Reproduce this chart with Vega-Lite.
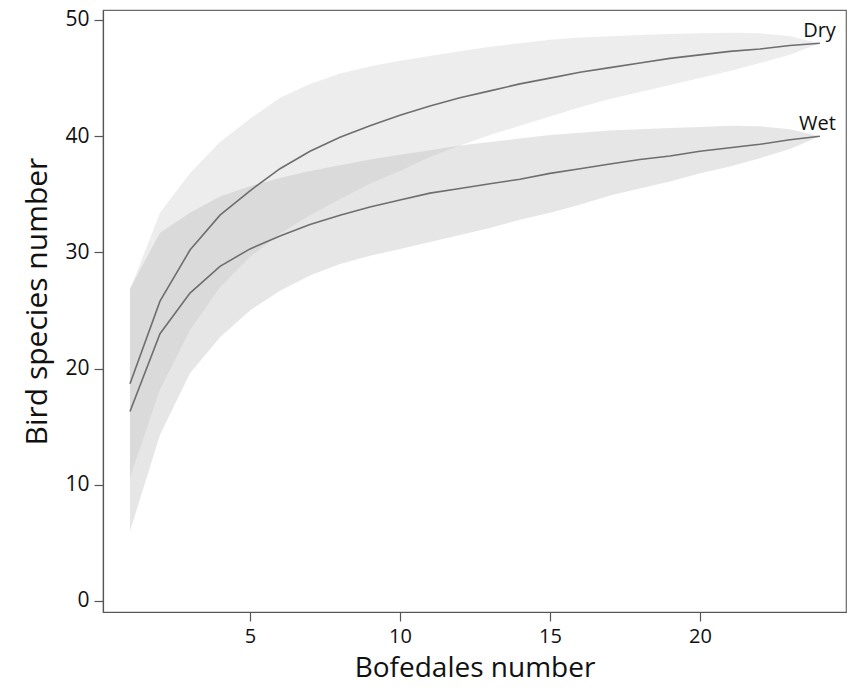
{
  "$schema": "https://vega.github.io/schema/vega-lite/v6.json",
  "width": 743,
  "height": 602,
  "autosize": {"type": "none"},
  "padding": {"left": 103, "top": 10, "right": 5, "bottom": 81},
  "background": "white",
  "config": {
    "view": {"stroke": "#6a6a6a", "strokeWidth": 1.2},
    "font": "Open Sans"
  },
  "data": {
    "values": [
      {"x": 1, "group": "Dry", "mean": 18.7, "lo": 10.6, "hi": 26.8},
      {"x": 2, "group": "Dry", "mean": 25.8, "lo": 18.2, "hi": 33.4},
      {"x": 3, "group": "Dry", "mean": 30.2, "lo": 23.3, "hi": 36.8},
      {"x": 4, "group": "Dry", "mean": 33.2, "lo": 27.0, "hi": 39.5},
      {"x": 5, "group": "Dry", "mean": 35.3, "lo": 29.6, "hi": 41.5},
      {"x": 6, "group": "Dry", "mean": 37.2, "lo": 31.6, "hi": 43.3},
      {"x": 7, "group": "Dry", "mean": 38.7, "lo": 33.2, "hi": 44.5},
      {"x": 8, "group": "Dry", "mean": 39.9, "lo": 34.6, "hi": 45.4},
      {"x": 9, "group": "Dry", "mean": 40.9, "lo": 35.9, "hi": 46.0},
      {"x": 10, "group": "Dry", "mean": 41.8, "lo": 37.0, "hi": 46.5},
      {"x": 11, "group": "Dry", "mean": 42.6, "lo": 38.2, "hi": 46.9},
      {"x": 12, "group": "Dry", "mean": 43.3, "lo": 39.2, "hi": 47.3},
      {"x": 13, "group": "Dry", "mean": 43.9, "lo": 40.1, "hi": 47.7},
      {"x": 14, "group": "Dry", "mean": 44.5, "lo": 40.9, "hi": 48.0},
      {"x": 15, "group": "Dry", "mean": 45.0, "lo": 41.7, "hi": 48.3},
      {"x": 16, "group": "Dry", "mean": 45.5, "lo": 42.5, "hi": 48.5},
      {"x": 17, "group": "Dry", "mean": 45.9, "lo": 43.2, "hi": 48.6},
      {"x": 18, "group": "Dry", "mean": 46.3, "lo": 43.8, "hi": 48.7},
      {"x": 19, "group": "Dry", "mean": 46.7, "lo": 44.4, "hi": 48.8},
      {"x": 20, "group": "Dry", "mean": 47.0, "lo": 45.0, "hi": 48.85},
      {"x": 21, "group": "Dry", "mean": 47.3, "lo": 45.6, "hi": 48.9},
      {"x": 22, "group": "Dry", "mean": 47.5, "lo": 46.3, "hi": 48.85},
      {"x": 23, "group": "Dry", "mean": 47.8, "lo": 47.0, "hi": 48.6},
      {"x": 24, "group": "Dry", "mean": 48.0, "lo": 48.0, "hi": 48.0},
      {"x": 1, "group": "Wet", "mean": 16.3, "lo": 6.0, "hi": 26.9},
      {"x": 2, "group": "Wet", "mean": 23.0, "lo": 14.3, "hi": 31.7},
      {"x": 3, "group": "Wet", "mean": 26.5, "lo": 19.6, "hi": 33.4},
      {"x": 4, "group": "Wet", "mean": 28.8, "lo": 22.7, "hi": 34.8},
      {"x": 5, "group": "Wet", "mean": 30.3, "lo": 25.0, "hi": 35.7},
      {"x": 6, "group": "Wet", "mean": 31.4, "lo": 26.7, "hi": 36.4},
      {"x": 7, "group": "Wet", "mean": 32.4, "lo": 28.0, "hi": 37.0},
      {"x": 8, "group": "Wet", "mean": 33.2, "lo": 29.0, "hi": 37.5},
      {"x": 9, "group": "Wet", "mean": 33.9, "lo": 29.7, "hi": 38.0},
      {"x": 10, "group": "Wet", "mean": 34.5, "lo": 30.3, "hi": 38.4},
      {"x": 11, "group": "Wet", "mean": 35.1, "lo": 30.9, "hi": 38.8},
      {"x": 12, "group": "Wet", "mean": 35.5, "lo": 31.5, "hi": 39.2},
      {"x": 13, "group": "Wet", "mean": 35.9, "lo": 32.1, "hi": 39.5},
      {"x": 14, "group": "Wet", "mean": 36.3, "lo": 32.8, "hi": 39.8},
      {"x": 15, "group": "Wet", "mean": 36.8, "lo": 33.4, "hi": 40.1},
      {"x": 16, "group": "Wet", "mean": 37.2, "lo": 34.1, "hi": 40.3},
      {"x": 17, "group": "Wet", "mean": 37.6, "lo": 34.9, "hi": 40.5},
      {"x": 18, "group": "Wet", "mean": 38.0, "lo": 35.5, "hi": 40.6},
      {"x": 19, "group": "Wet", "mean": 38.3, "lo": 36.1, "hi": 40.7},
      {"x": 20, "group": "Wet", "mean": 38.7, "lo": 36.8, "hi": 40.8},
      {"x": 21, "group": "Wet", "mean": 39.0, "lo": 37.4, "hi": 40.9},
      {"x": 22, "group": "Wet", "mean": 39.3, "lo": 38.1, "hi": 40.85},
      {"x": 23, "group": "Wet", "mean": 39.7, "lo": 38.9, "hi": 40.6},
      {"x": 24, "group": "Wet", "mean": 40.0, "lo": 40.0, "hi": 40.0}
    ]
  },
  "encoding": {
    "x": {
      "field": "x", "type": "quantitative",
      "scale": {"domain": [0.1, 24.87], "nice": false, "zero": false},
      "axis": {
        "title": "Bofedales number", "values": [5, 10, 15, 20],
        "grid": false, "domainColor": "#555555", "domainWidth": 1.2,
        "tickColor": "#555555", "tickSize": 9, "tickWidth": 1.2,
        "labelFontSize": 20, "labelColor": "#111111", "labelPadding": 5, "labelFont": "Open Sans",
        "titleFontSize": 28, "titleFontWeight": "normal", "titleColor": "#111111", "titlePadding": 8, "titleFont": "Open Sans"
      }
    }
  },
  "layer": [
    {
      "mark": {"type": "area", "opacity": 1},
      "encoding": {
        "y": {
          "field": "lo", "type": "quantitative",
          "scale": {"domain": [-0.95, 50.86], "nice": false, "zero": false},
          "axis": {
            "title": "Bird species number", "values": [0, 10, 20, 30, 40, 50],
            "grid": false, "domainColor": "#555555", "domainWidth": 1.2,
            "tickColor": "#555555", "tickSize": 9, "tickWidth": 1.2,
            "labelFontSize": 21, "labelColor": "#111111", "labelPadding": 5, "labelFont": "Open Sans",
            "titleFontSize": 30, "titleFontWeight": "normal", "titleColor": "#111111", "titlePadding": 12, "titleFont": "Open Sans",
            "titleY": 291
          }
        },
        "y2": {"field": "hi"},
        "fill": {
          "field": "group", "type": "nominal",
          "scale": {"domain": ["Dry", "Wet"], "range": ["#bbbbbb", "#bbbbbb"]},
          "legend": null
        },
        "fillOpacity": {
          "field": "group", "type": "nominal",
          "scale": {"domain": ["Dry", "Wet"], "range": [0.27, 0.37]},
          "legend": null
        }
      }
    },
    {
      "mark": {"type": "line", "color": "#6e6e6e", "strokeWidth": 1.6},
      "encoding": {
        "y": {"field": "mean", "type": "quantitative"},
        "detail": {"field": "group", "type": "nominal"}
      }
    },
    {
      "transform": [{"filter": "datum.x == 24"}],
      "mark": {"type": "text", "align": "right", "baseline": "alphabetic", "dx": 16, "dy": -6, "fontSize": 20, "font": "Open Sans", "color": "#111111"},
      "encoding": {
        "y": {"field": "mean", "type": "quantitative"},
        "text": {"field": "group", "type": "nominal"}
      }
    }
  ]
}
